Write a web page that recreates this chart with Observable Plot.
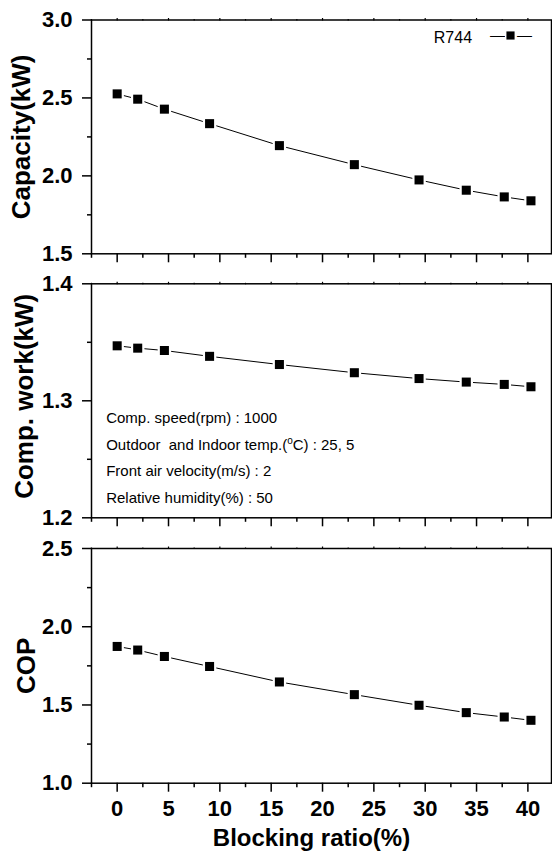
<!DOCTYPE html>
<html>
<head>
<meta charset="utf-8">
<script src="https://cdn.jsdelivr.net/npm/d3@7"></script>
<script src="https://cdn.jsdelivr.net/npm/@observablehq/plot@0.6"></script>
<style>
html, body { margin: 0; padding: 0; background: #fff; }
#chart { width: 552px; height: 851px; position: relative; overflow: hidden; }
#chart svg { display: block; overflow: visible; }
#chart text { white-space: pre; }
</style>
</head>
<body>
<div id="chart"></div>
<script>
// ---- data ----
const blockingRatio = [0, 2.0, 4.6, 9.0, 15.8, 23.1, 29.4, 34.0, 37.7, 40.3];
const capacity = [2.526, 2.492, 2.428, 2.335, 2.194, 2.072, 1.974, 1.908, 1.865, 1.840];
const compWork = [1.347, 1.345, 1.343, 1.338, 1.331, 1.324, 1.319, 1.316, 1.314, 1.312];
const cop = [1.874, 1.851, 1.810, 1.746, 1.647, 1.566, 1.498, 1.451, 1.423, 1.402];

const xTicks = [0, 5, 10, 15, 20, 25, 30, 35, 40];
const xMinorTicks = [-2.5, 2.5, 7.5, 12.5, 17.5, 22.5, 27.5, 32.5, 37.5];
const xDomain = [-2.5, 42.3];

const capDomain = [1.5, 3.0];
const capTicks = [1.5, 2.0, 2.5, 3.0];
const capMinor = [1.75, 2.25, 2.75];

const workDomain = [1.2, 1.4];
const workTicks = [1.2, 1.3, 1.4];
const workMinor = [1.25, 1.35];

const copDomain = [1.0, 2.5];
const copTicks = [1.0, 1.5, 2.0, 2.5];
const copMinor = [1.25, 1.75, 2.25];

const seriesName = "R744";
const xLabel = "Blocking ratio(%)";
const yLabels = ["Capacity(kW)", "Comp. work(kW)", "COP"];
const annotationLines = [
  "Comp. speed(rpm) : 1000",
  "Outdoor  and Indoor temp.(\u00B0C) : 25, 5",
  "Front air velocity(m/s) : 2",
  "Relative humidity(%) : 50"
];

// ---- rendering ----
const FONT = "'Liberation Sans', Arial, Helvetica, sans-serif";
const fmt1 = d3.format(".1f");
const blank = () => "";

function panel({values, yDomain, yTicks, yMinor, yLabel, labelDx, labelDy = 0,
                height, marginTop, marginBottom, showX, extra = []}) {
  const rows = blockingRatio.map((b, i) => ({ratio: b, value: values[i]}));
  return Plot.plot({
    width: 552,
    height,
    marginLeft: 91,
    marginRight: 1,
    marginTop,
    marginBottom,
    x: {domain: xDomain, label: null},
    y: {domain: yDomain, label: null},
    style: {fontFamily: FONT, color: "black", background: "white", overflow: "visible"},
    marks: [
      Plot.axisX(xTicks, {anchor: "bottom", tickSize: 9, tickPadding: 8, strokeWidth: 1.5,
        fontSize: 22, fontWeight: "bold", tickFormat: showX ? (d => String(d)) : blank, label: null}),
      Plot.axisX(xMinorTicks, {anchor: "bottom", tickSize: 4.5, strokeWidth: 1.5, tickFormat: blank, label: null}),
      Plot.axisX(xTicks, {anchor: "top", tickSize: 2.5, strokeWidth: 1.2, tickFormat: blank, label: null}),
      Plot.axisX(xMinorTicks, {anchor: "top", tickSize: 1.5, strokeWidth: 1.2, tickFormat: blank, label: null}),
      Plot.axisY(yTicks, {anchor: "left", tickSize: 9, tickPadding: 10, strokeWidth: 1.5,
        fontSize: 22, fontWeight: "bold", tickFormat: fmt1, label: null}),
      Plot.axisY(yMinor, {anchor: "left", tickSize: 4, strokeWidth: 1.5, tickFormat: blank, label: null}),
      Plot.frame({stroke: "black", strokeWidth: 1.5}),
      Plot.line(rows, {x: "ratio", y: "value", stroke: "black", strokeWidth: 1}),
      Plot.dot(rows, {x: "ratio", y: "value", symbol: "square", r: 7.6, fill: "white", stroke: "none"}),
      Plot.dot(rows, {x: "ratio", y: "value", symbol: "square", r: 5.1, fill: "black", stroke: "none"}),
      Plot.text([yLabel], {frameAnchor: "left", dx: labelDx, dy: labelDy, rotate: -90,
        textAnchor: "middle", lineAnchor: "middle", fontSize: 26, fontWeight: "bold", fill: "black"}),
      ...extra
    ]
  });
}

const legendMarks = [
  Plot.text([seriesName], {frameAnchor: "top-left", dx: 342.3, dy: 22.8, lineAnchor: "bottom",
    textAnchor: "start", fontSize: 16, fill: "black"}),
  Plot.text(["\u2014"], {frameAnchor: "top-left", dx: 406, dy: 9, textAnchor: "middle", fontSize: 15, fill: "black"}),
  Plot.text(["\u2014"], {frameAnchor: "top-left", dx: 433, dy: 9, textAnchor: "middle", fontSize: 15, fill: "black"}),
  Plot.dot([seriesName], {frameAnchor: "top-left", dx: 419, dy: 15.5, symbol: "square", r: 6.2, fill: "white", stroke: "none"}),
  Plot.dot([seriesName], {frameAnchor: "top-left", dx: 419, dy: 15.5, symbol: "square", r: 4.6, fill: "black", stroke: "none"})
];

const annotationMarks = [
  Plot.text([annotationLines.join("\n")], {frameAnchor: "top-left", dx: 14.7, dy: 219.2,
    lineAnchor: "bottom", textAnchor: "start", fontSize: 15, lineHeight: 1.78, fill: "black"})
];

const xTitleMarks = [
  Plot.text([xLabel], {frameAnchor: "bottom", dx: -10, dy: 62.3, lineAnchor: "bottom",
    fontSize: 24, fontWeight: "bold", fill: "black"})
];

const chart = document.getElementById("chart");

const p1 = panel({values: capacity, yDomain: capDomain, yTicks: capTicks, yMinor: capMinor,
  yLabel: yLabels[0], labelDx: -70.2, height: 268, marginTop: 19.5, marginBottom: 14.7,
  showX: false, extra: legendMarks});
const p2 = panel({values: compWork, yDomain: workDomain, yTicks: workTicks, yMinor: workMinor,
  yLabel: yLabels[1], labelDx: -66.4, labelDy: -4.5, height: 266, marginTop: 15.3, marginBottom: 16.7,
  showX: false, extra: annotationMarks});
const p3 = panel({values: cop, yDomain: copDomain, yTicks: copTicks, yMinor: copMinor,
  yLabel: yLabels[2], labelDx: -64.6, height: 317, marginTop: 14, marginBottom: 68.3,
  showX: true, extra: xTitleMarks});

chart.append(p1, p2, p3);

// superscript "o" in (°C)
const NS = "http://www.w3.org/2000/svg";
d3.select(p2).selectAll("tspan").each(function () {
  const t = this.textContent;
  const i = t.indexOf("\u00B0");
  if (i >= 0 && this.childElementCount === 0) {
    this.textContent = t.slice(0, i);
    const sup = document.createElementNS(NS, "tspan");
    sup.setAttribute("dy", "-6");
    sup.setAttribute("font-size", "10");
    sup.textContent = "o";
    const rest = document.createElementNS(NS, "tspan");
    rest.setAttribute("dy", "6");
    rest.textContent = t.slice(i + 1);
    this.appendChild(sup);
    this.appendChild(rest);
  }
});
</script>
</body>
</html>
